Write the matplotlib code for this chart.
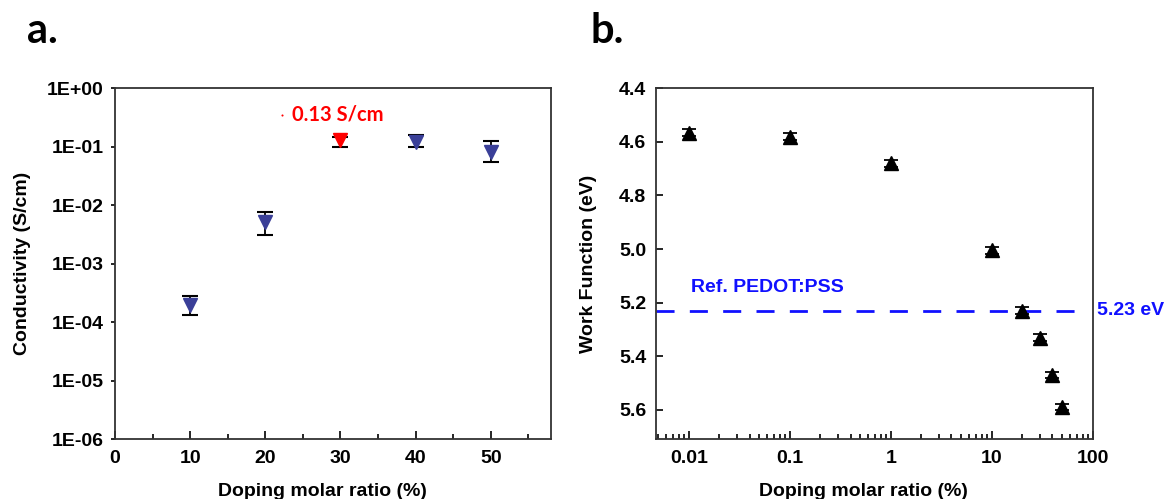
import numpy as np
import matplotlib
matplotlib.use("Agg")
import matplotlib.pyplot as plt
from matplotlib.ticker import FixedLocator, FuncFormatter, LogLocator, NullFormatter, MultipleLocator

plt.rcParams['font.family'] = ['Liberation Sans', 'DejaVu Sans']
plt.rcParams['font.weight'] = 'bold'

# panel a: conductivity vs doping ratio
ratio_a = [10, 20, 30, 40, 50]
cond = [2.0e-4, 5.1e-3, 0.13, 0.122, 0.082]
cond_low = [1.33e-4, 3.1e-3, 0.100, 0.098, 0.0556]
cond_high = [2.8e-4, 7.6e-3, 0.149, 0.159, 0.127]
best_idx = 2
best_label = '0.13 S/cm'

# panel b: work function vs doping ratio
ratio_b = [0.01, 0.1, 1, 10, 20, 30, 40, 50]
wf = [4.565, 4.58, 4.68, 5.005, 5.23, 5.33, 5.47, 5.59]
wf_err = [0.012, 0.012, 0.012, 0.012, 0.012, 0.012, 0.012, 0.012]
ref_wf = 5.23
ref_name = 'Ref. PEDOT:PSS'

fig = plt.figure(figsize=(11.66, 4.99), dpi=100)
ax1 = fig.add_axes([0.0986, 0.1196, 0.3739, 0.7034])
ax2 = fig.add_axes([0.5626, 0.1196, 0.3745, 0.7034])

blue = '#3a3f98'
red = '#ff0000'

# ---- a ----
for i, x in enumerate(ratio_a):
    c = red if i == best_idx else blue
    ax1.errorbar([x], [cond[i]],
                 yerr=[[cond[i] - cond_low[i]], [cond_high[i] - cond[i]]],
                 fmt='v', color=c, ms=10, mec=c, ecolor='black',
                 elinewidth=1.3, capsize=6, capthick=1.5, zorder=3)
ax1.set_yscale('log')
ax1.set_ylim(1e-6, 1)
ax1.set_xlim(0, 58)
ax1.xaxis.set_major_locator(MultipleLocator(10))
ax1.xaxis.set_minor_locator(MultipleLocator(5))
ax1.yaxis.set_major_locator(FixedLocator([10.0 ** k for k in range(-6, 1)]))
ax1.yaxis.set_minor_locator(FixedLocator([]))
ax1.yaxis.set_major_formatter(FuncFormatter(lambda v, p: '1E%+03d' % int(round(np.log10(v)))))
ax1.tick_params(axis='x', which='major', direction='in', length=6, width=1.2, pad=8, labelsize=14)
ax1.tick_params(axis='x', which='minor', direction='in', length=3.5, width=1.2)
ax1.tick_params(axis='y', which='major', direction='out', length=3, width=1.2, pad=5, labelsize=14)
ax1.set_ylabel('Conductivity (S/cm)', fontsize=14, fontweight='bold')
ax1.yaxis.set_label_coords(-0.193, 0.5)
ax1.set_xlabel('Doping molar ratio (%)', fontsize=14, fontweight='bold')
ax1.xaxis.set_label_coords(0.475, -0.124)
ax1.plot([22.2], [0.35], 'o', color=red, ms=1.5, mec='none')
ax1.text(23.6, 0.35, best_label, color=red, fontsize=14.5, fontweight='bold',
         family=['Lato', 'DejaVu Sans'], va='center', ha='left')

# ---- b ----
ax2.errorbar(ratio_b, wf, yerr=wf_err, fmt='^', color='black', ms=10,
             elinewidth=1.3, capsize=5, capthick=1.3, zorder=3)
ax2.axhline(ref_wf, xmin=0, xmax=0.97, color='#1010ff', lw=2, ls=(0, (6.5, 5.5)), zorder=2)
ax2.set_xscale('log')
ax2.set_xlim(0.00474, 100)
ax2.set_ylim(5.71, 4.4)
ax2.xaxis.set_major_locator(FixedLocator([0.01, 0.1, 1, 10, 100]))
ax2.xaxis.set_major_formatter(FuncFormatter(lambda v, p: '%g' % v))
ax2.xaxis.set_minor_locator(LogLocator(base=10, subs=np.arange(2, 10), numticks=20))
ax2.xaxis.set_minor_formatter(NullFormatter())
ax2.yaxis.set_major_locator(MultipleLocator(0.2))
ax2.yaxis.set_major_formatter(FuncFormatter(lambda v, p: '%.1f' % v))
ax2.tick_params(axis='x', which='major', direction='in', length=6, width=1.2, pad=8, labelsize=14)
ax2.tick_params(axis='x', which='minor', direction='in', length=3.5, width=1.2)
ax2.tick_params(axis='y', which='major', direction='in', length=5, width=1.2, pad=7, labelsize=14)
ax2.set_ylabel('Work Function (eV)', fontsize=14, fontweight='bold')
ax2.yaxis.set_label_coords(-0.135, 0.5)
ax2.set_xlabel('Doping molar ratio (%)', fontsize=14, fontweight='bold')
ax2.xaxis.set_label_coords(0.475, -0.124)
ax2.text(0.0105, ref_wf - 0.085, ref_name, color='#1010ff', fontsize=14, fontweight='bold',
         va='center', ha='left')
ax2.text(1.01, ref_wf, '5.23 eV', transform=ax2.get_yaxis_transform(), color='#1010ff',
         fontsize=14, fontweight='bold', va='center', ha='left')

for ax in (ax1, ax2):
    for s in ax.spines.values():
        s.set_linewidth(1.3)
        s.set_color('#333333')

fig.text(27 / 1166, 1 - 43.3 / 499, 'a.', fontsize=30, fontweight='bold',
         family=['Lato', 'DejaVu Sans'], va='baseline', ha='left')
fig.text(590.7 / 1166, 1 - 43.3 / 499, 'b.', fontsize=30, fontweight='bold',
         family=['Lato', 'DejaVu Sans'], va='baseline', ha='left')

fig.savefig('out.png', dpi=100)
